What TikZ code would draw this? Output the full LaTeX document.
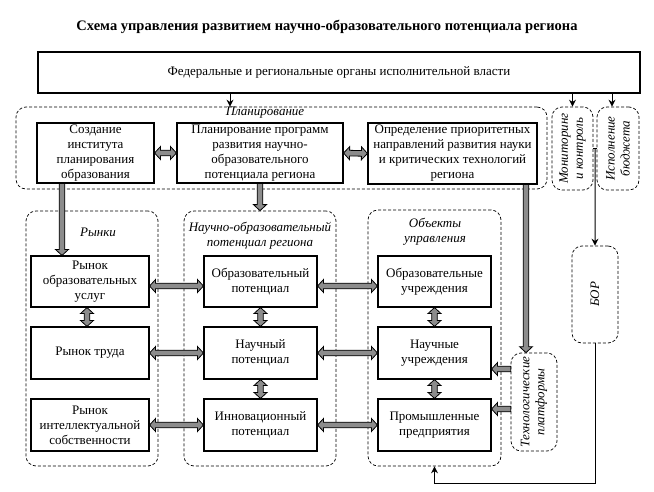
\documentclass[tikz,border=0pt]{standalone}
\usepackage{fontspec}
\setmainfont{Liberation Serif}
\usetikzlibrary{calc,arrows.meta}

\def\fL{6pt}\def\fH{6.5pt}\def\fS{2.8pt}
% double fat arrow between two named points
\newcommand\fatD[2]{%
 \path[fat] (#1)
 -- ($(#1)!\fL!(#2)!\fH!90:(#2)$)
 -- ($(#1)!\fL!(#2)!\fS!90:(#2)$)
 -- ($(#2)!\fL!(#1)!\fS!-90:(#1)$)
 -- ($(#2)!\fL!(#1)!\fH!-90:(#1)$)
 -- (#2)
 -- ($(#2)!\fL!(#1)!\fH!90:(#1)$)
 -- ($(#2)!\fL!(#1)!\fS!90:(#1)$)
 -- ($(#1)!\fL!(#2)!\fS!-90:(#2)$)
 -- ($(#1)!\fL!(#2)!\fH!-90:(#2)$)
 -- cycle;}
% single fat arrow from #1 (tail) to #2 (head)
\newcommand\fatS[2]{%
 \path[fat] ($(#1)!\fS!90:(#2)$)
 -- ($(#2)!\fL!(#1)!\fS!-90:(#1)$)
 -- ($(#2)!\fL!(#1)!\fH!-90:(#1)$)
 -- (#2)
 -- ($(#2)!\fL!(#1)!\fH!90:(#1)$)
 -- ($(#2)!\fL!(#1)!\fS!90:(#1)$)
 -- ($(#1)!\fS!-90:(#2)$)
 -- cycle;}

\tikzset{
 box/.style={draw, line width=1.1pt, fill=white, align=center, inner sep=1pt,
   font=\fontsize{13}{15}\selectfont},
 region/.style={draw, line width=0.7pt, dash pattern=on 3pt off 2pt, rounded corners=10pt},
 lbl/.style={font=\fontsize{13}{15}\selectfont\itshape, align=center, inner sep=0pt},
 thinarrow/.style={line width=1pt, -{Stealth[length=7pt,width=7pt]}},
 thinline/.style={line width=1pt},
 fat/.style={draw=black, fill=black!45, line width=0.8pt, line join=miter},
}

\begin{document}
\begin{tikzpicture}[x=1pt,y=-1pt]
\useasboundingbox (0,0) rectangle (654,492);

\node[font=\fontsize{14.5}{16}\selectfont\bfseries, inner sep=0pt] (title) at (327,27)
  {Схема управления развитием научно-образовательного потенциала региона};

\node[box, line width=1.4pt, minimum width=602pt, minimum height=41pt] (fed) at (339,72.5)
  {Федеральные и региональные органы исполнительной власти};

% dashed regions
\node[region, minimum width=531pt, minimum height=82pt] (plan) at (281.5,148) {};
\node[region, minimum width=41pt, minimum height=83pt] (mon) at (572.5,148.5) {};
\node[region, minimum width=42pt, minimum height=83pt] (bud) at (618,148.5) {};
\node[region, minimum width=132pt, minimum height=255pt] (mkt) at (92,338.5) {};
\node[region, minimum width=152pt, minimum height=255pt] (sci) at (260,338.5) {};
\node[region, minimum width=133pt, minimum height=256pt] (obj) at (434.5,338) {};
\node[region, minimum width=46pt, minimum height=98pt] (tech) at (534,402) {};
\node[region, minimum width=46pt, minimum height=97pt] (bor) at (595,294.5) {};

% region labels
\node[lbl] (planL) at (265,113) {Планирование};
\node[lbl] (mktL) at (98,232) {Рынки};
\node[lbl] (sciL) at (260,235.5) {Научно-образовательный\\потенциал региона};
\node[lbl] (objL) at (435,231.5) {Объекты\\управления};
\node[lbl, rotate=90] (monL) at (mon) {Мониторинг\\и контроль};
\node[lbl, rotate=90] (budL) at (bud) {Исполнение\\бюджета};
\node[lbl, rotate=90] (techL) at (tech) {Технологические\\платформы};
\node[lbl, rotate=90] (borL) at (bor) {БОР};

% planning boxes
\node[box, minimum width=117pt, minimum height=60pt] (create) at (95.5,153)
  {Создание\\института\\планирования\\образования};
\node[box, minimum width=166pt, minimum height=60pt] (prog) at (260,153)
  {Планирование программ\\развития научно-\\образовательного\\потенциала региона};
\node[box, minimum width=169pt, minimum height=61pt] (prior) at (452.5,153.5)
  {Определение приоритетных\\направлений развития науки\\и критических технологий\\региона};

% markets
\node[box, minimum width=118pt, minimum height=51pt] (m1) at (90,281.5) {Рынок\\образовательных\\услуг};
\node[box, minimum width=118pt, minimum height=52pt] (m2) at (90,353) {Рынок труда};
\node[box, minimum width=118pt, minimum height=52pt] (m3) at (90,425) {Рынок\\интеллектуальной\\собственности};
% potential
\node[box, minimum width=113pt, minimum height=51pt] (p1) at (260.5,281.5) {Образовательный\\потенциал};
\node[box, minimum width=113pt, minimum height=52pt] (p2) at (260.5,353) {Научный\\потенциал};
\node[box, minimum width=113pt, minimum height=52pt] (p3) at (260.5,425) {Инновационный\\потенциал};
% objects
\node[box, minimum width=113pt, minimum height=51pt] (o1) at (434.5,281.5) {Образовательные\\учреждения};
\node[box, minimum width=113pt, minimum height=52pt] (o2) at (434.5,353) {Научные\\учреждения};
\node[box, minimum width=113pt, minimum height=52pt] (o3) at (434.5,425) {Промышленные\\предприятия};

% thin black connectors
\coordinate (xa) at (230,0);
\coordinate (xb) at (612,0);
\draw[thinarrow] (xa |- fed.south) -- (xa |- plan.north);
\draw[thinarrow] (mon.north |- fed.south) -- (mon.north);
\draw[thinarrow] (xb |- fed.south) -- (xb |- bud.north);
\draw[thinline] (mon.east) -- (bud.west);
\draw[thinarrow] ($(mon.east)!0.5!(bud.west)$) -- (bor.north);
\draw[thinarrow] (bor.south) -- ++(0,140) -| (obj.south);

% fat arrows: planning row
\fatD{create.east}{prog.west}
\fatD{prog.east}{prior.west}
\coordinate (xc) at (62,0);
\coordinate (s1) at (xc |- create.south);
\coordinate (e1) at (xc |- m1.north);
\fatS{s1}{e1}
\coordinate (s2) at (prog.south);
\coordinate (e2) at (prog.south |- sci.north);
\fatS{s2}{e2}
\coordinate (xd) at (526,0);
\coordinate (s3) at (xd |- prior.south);
\coordinate (e3) at (xd |- tech.north);
\fatS{s3}{e3}

% horizontal fat arrows
\coordinate (r1a) at ($(m1.east)+(0,4.5)$);
\coordinate (r1b) at (p1.west |- r1a);
\coordinate (r1c) at (p1.east |- r1a);
\coordinate (r1d) at (o1.west |- r1a);
\fatD{r1a}{r1b}
\fatD{r1c}{r1d}
\fatD{m2.east}{p2.west}
\fatD{p2.east}{o2.west}
\fatD{m3.east}{p3.west}
\fatD{p3.east}{o3.west}

% vertical fat arrows
\coordinate (xe) at (87,0);
\coordinate (v1a) at (xe |- m1.south);
\coordinate (v1b) at (xe |- m2.north);
\fatD{v1a}{v1b}
\fatD{p1.south}{p2.north}
\fatD{p2.south}{p3.north}
\fatD{o1.south}{o2.north}
\fatD{o2.south}{o3.north}

% from technology platforms
\coordinate (t1) at (tech.west |- 0,369);
\coordinate (t1e) at (o2.east |- t1);
\coordinate (t2) at (tech.west |- 0,409);
\coordinate (t2e) at (o3.east |- t2);
\fatS{t1}{t1e}
\fatS{t2}{t2e}
\end{tikzpicture}
\end{document}
